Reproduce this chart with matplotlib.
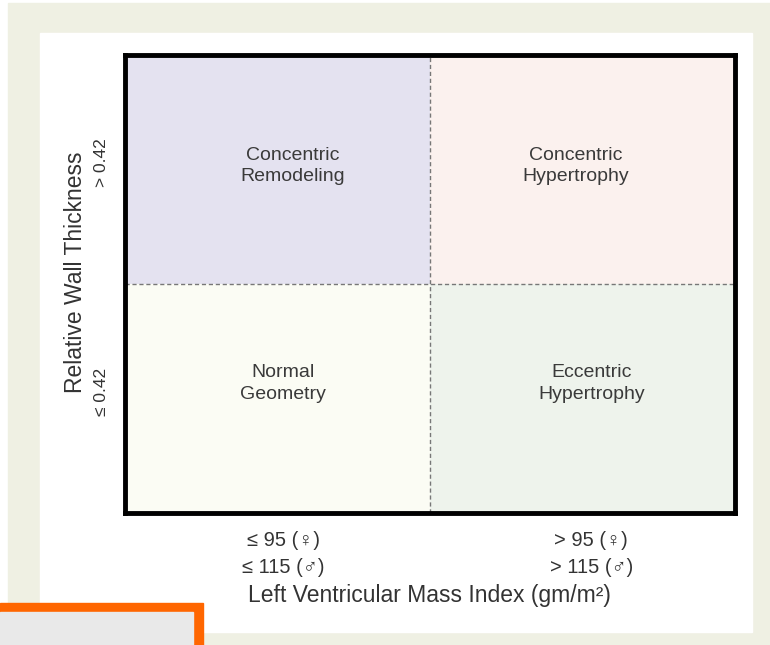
import matplotlib.pyplot as plt
from matplotlib.patches import Rectangle

plt.rcParams['font.family'] = ['Liberation Sans', 'DejaVu Sans']

# quadrant data: (column, row, label, colour)
quad_cols = [0, 1, 0, 1]
quad_rows = [1, 1, 0, 0]
quad_names = ["Concentric\nRemodeling", "Concentric\nHypertrophy",
              "Normal\nGeometry", "Eccentric\nHypertrophy"]
quad_colors = ["#e4e2f0", "#fbf1ee", "#fbfcf4", "#eef3ec"]

x_ticklabels = ["\u2264 95 (\u2640)\n\u2264 115 (\u2642)", "> 95 (\u2640)\n> 115 (\u2642)"]
y_ticklabels = ["\u2264 0.42", "> 0.42"]
x_title = "Left Ventricular Mass Index (gm/m\u00b2)"
y_title = "Relative Wall Thickness"

fig = plt.figure(figsize=(7.7, 6.45), dpi=100)
fig.patch.set_facecolor("white")

# page decoration: beige frame, white card, orange corner
fig.patches.append(Rectangle((0.010, 0.0), 0.99, 0.995, transform=fig.transFigure,
                             color="#eff0e3", zorder=-3))
fig.patches.append(Rectangle((0.052, 0.020), 0.925, 0.929, transform=fig.transFigure,
                             color="white", zorder=-2))
fig.patches.append(Rectangle((0.0, 0.0), 0.264, 0.065, transform=fig.transFigure,
                             color="#ff6600", zorder=5))
fig.patches.append(Rectangle((0.0, 0.0), 0.251, 0.051, transform=fig.transFigure,
                             color="#e9e9e9", zorder=6))

ax = fig.add_axes([0.162, 0.2047, 0.792, 0.710])
ax.bar(quad_cols, [1] * 4, bottom=quad_rows, width=1, align="edge",
       color=quad_colors, linewidth=0)
ax.set_xlim(0, 2)
ax.set_ylim(0, 2)
ax.axvline(1, color="#777777", lw=1, ls=(0, (3, 2)))
ax.axhline(1, color="#777777", lw=1, ls=(0, (3, 2)))

offsets = [(0.05, 0.515), (-0.02, 0.515), (0.02, 0.565), (0.03, 0.565)]
for c, r, name, (dx, dy) in zip(quad_cols, quad_rows, quad_names, offsets):
    ax.text(c + 0.5 + dx, r + dy, name, ha="center", va="center",
            fontsize=14, color="#3a3a3a", linespacing=1.35)

for s in ax.spines.values():
    s.set_linewidth(3.5)
    s.set_color("black")

ax.set_xticks([0.52, 1.53])
ax.set_xticklabels(x_ticklabels, fontsize=14.5, color="#333333", linespacing=1.55)
ax.set_yticks([0.53, 1.53])
ax.set_yticklabels(y_ticklabels, fontsize=12.5, color="#333333", rotation=90, va="center")
ax.tick_params(length=0)
ax.tick_params(axis="x", pad=13)
ax.tick_params(axis="y", pad=11)
ax.set_xlabel(x_title, fontsize=16.5, color="#333333", labelpad=5)
ax.set_ylabel(y_title, fontsize=16.5, color="#333333")
ax.yaxis.set_label_coords(-0.062, 0.525)

fig.savefig("out.png", dpi=100)
